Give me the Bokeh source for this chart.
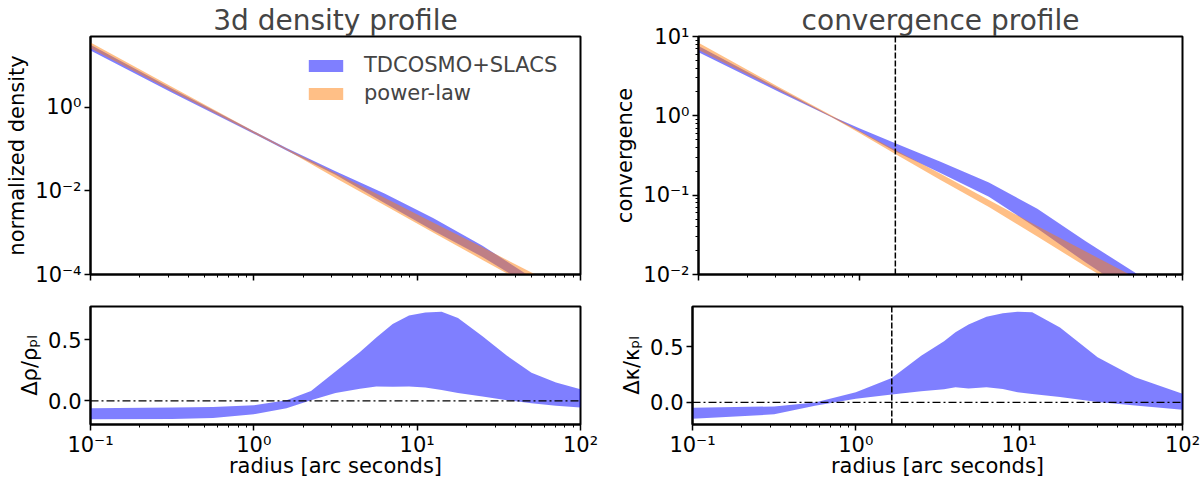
import numpy as np
from bokeh.plotting import figure
from bokeh.models import (Range1d, FixedTicker, CustomJSTickFormatter, Span,
                          Legend, LegendItem)
from bokeh.layouts import column, row
from bokeh.embed import file_html
from bokeh.resources import INLINE

FONT = "DejaVu Sans"
BLUE = "#0000ff"
ORANGE = "#ff7f0e"

# --- data (log10 values for the top panels) ---
logr_dens = [-1.0, -0.5, 0.0, 0.2, 0.5, 0.8, 1.1, 1.4, 1.7, 2.0]
dens_hi = [1.50, 0.45, -0.57, -0.97, -1.53, -2.06, -2.65, -3.31, -4.07, -4.85]
dens_lo = [1.365, 0.35, -0.63, -1.03, -1.61, -2.29, -2.95, -3.58, -4.30, -5.0]
dens_pl_hi = [1.556, 0.49, -0.57, -0.98, -1.57, -2.16, -2.76, -3.35, -3.95, -4.55]
dens_pl_lo = [1.42, 0.39, -0.62, -1.02, -1.69, -2.34, -3.00, -3.65, -4.30, -4.96]

logr_conv = [-1.0, -0.5, -0.18, 0.0, 0.22, 0.5, 0.8, 1.1, 1.4, 1.7, 2.0]
conv_hi = [0.88, 0.34, 0.00, -0.16, -0.345, -0.58, -0.84, -1.17, -1.58, -1.97, -2.40]
conv_lo = [0.80, 0.30, -0.01, -0.20, -0.45, -0.72, -1.02, -1.42, -1.85, -2.25, -2.62]
conv_pl_hi = [0.92, 0.36, 0.01, -0.19, -0.43, -0.73, -1.06, -1.39, -1.71, -2.03, -2.36]
conv_pl_lo = [0.83, 0.32, -0.01, -0.22, -0.48, -0.81, -1.15, -1.52, -1.90, -2.26, -2.62]

logr_drho = [-1.0, -0.5, -0.25, 0.0, 0.2, 0.35, 0.5, 0.65, 0.75, 0.85, 0.95,
             1.05, 1.15, 1.25, 1.4, 1.55, 1.7, 1.85, 2.0]
drho_hi = [-0.06, -0.055, -0.05, -0.037, 0.005, 0.08, 0.24, 0.40, 0.52, 0.63, 0.70,
           0.725, 0.73, 0.68, 0.53, 0.37, 0.23, 0.15, 0.095]
drho_lo = [-0.15, -0.148, -0.14, -0.11, -0.06, 0.005, 0.065, 0.10, 0.118, 0.115, 0.118,
           0.11, 0.09, 0.065, 0.035, 0.005, -0.02, -0.04, -0.055]

logr_dkap = [-1.0, -0.5, -0.25, 0.0, 0.22, 0.4, 0.54, 0.61, 0.69, 0.8, 0.9,
             0.99, 1.08, 1.25, 1.48, 1.71, 2.0]
dkap_hi = [-0.048, -0.036, 0.0, 0.092, 0.22, 0.42, 0.55, 0.63, 0.70, 0.768, 0.80,
           0.813, 0.81, 0.673, 0.405, 0.226, 0.077]
dkap_lo = [-0.146, -0.107, -0.03, 0.033, 0.071, 0.10, 0.119, 0.137, 0.125, 0.137, 0.12,
           0.092, 0.075, 0.048, 0.003, -0.027, -0.065]

r_einstein = 1.66

x_major = [0.1, 1.0, 10.0, 100.0]
x_minor = [k * 10.0 ** d for d in (-1, 0, 1) for k in range(2, 10)]

sup_fmt = """
const s = {"-": "\u207b", "0": "\u2070", "1": "\u00b9", "2": "\u00b2", "3": "\u00b3",
           "4": "\u2074", "5": "\u2075", "6": "\u2076", "7": "\u2077", "8": "\u2078", "9": "\u2079"};
const e = Math.round(Math.log10(tick));
return "10" + String(e).split("").map(c => s[c]).join("");
"""


def panel(width, height, y_type, y_range, left, right, top, bottom, ylabel):
    p = figure(width=width, height=height, x_axis_type="log", y_axis_type=y_type,
               x_range=Range1d(0.1, 100), y_range=y_range,
               output_backend="svg", toolbar_location=None,
               min_border_left=left, min_border_right=right,
               min_border_top=top, min_border_bottom=bottom)
    p.outline_line_color = "black"
    p.outline_line_width = 2
    p.outline_line_alpha = 1
    p.grid.visible = False
    p.background_fill_color = "white"
    for ax in p.axis:
        ax.axis_line_color = "black"
        ax.axis_line_width = 2
        ax.major_tick_out = 6
        ax.major_tick_in = 0
        ax.minor_tick_out = 3
        ax.minor_tick_in = 0
        ax.major_tick_line_width = 1.5
        ax.minor_tick_line_width = 1
        ax.major_label_text_font = FONT
        ax.major_label_text_font_size = "21px"
        ax.major_label_text_color = "black"
        ax.major_label_standoff = 3
        ax.axis_label_text_font = FONT
        ax.axis_label_text_font_size = "21px"
        ax.axis_label_text_font_style = "normal"
        ax.axis_label_text_color = "black"
        ax.axis_label_standoff = 3
    p.xaxis.ticker = FixedTicker(ticks=x_major, minor_ticks=x_minor)
    p.xaxis.formatter = CustomJSTickFormatter(code=sup_fmt)
    p.yaxis.axis_label = ylabel
    return p


def style_title(p, text):
    p.title.text = text
    p.title.align = "center"
    p.title.text_font = FONT
    p.title.text_font_size = "28px"
    p.title.text_font_style = "normal"
    p.title.standoff = 0
    p.title.offset = 0


def hide_x_labels(p):
    p.xaxis.major_label_text_font_size = "0px"
    p.xaxis.major_label_text_color = None
    p.xaxis.major_label_standoff = 0


def bottom_x_label(p):
    p.xaxis.axis_label = "radius [arc seconds]"
    p.xaxis.major_label_standoff = 2
    p.xaxis.axis_label_standoff = -6


# top-left: 3d density
p1 = panel(610, 290, "log", Range1d(1e-4, 10 ** 1.70), 90, 30, 36, 16, "normalized density")
style_title(p1, "3d density profile")
hide_x_labels(p1)
p1.yaxis.ticker = FixedTicker(ticks=[1e-4, 1e-2, 1.0], minor_ticks=[])
p1.yaxis.formatter = CustomJSTickFormatter(code=sup_fmt)
r_d = 10.0 ** np.array(logr_dens)
b1 = p1.varea(x=r_d, y1=10.0 ** np.array(dens_lo), y2=10.0 ** np.array(dens_hi),
              fill_color=BLUE, fill_alpha=0.5)
o1 = p1.varea(x=r_d, y1=10.0 ** np.array(dens_pl_lo), y2=10.0 ** np.array(dens_pl_hi),
              fill_color=ORANGE, fill_alpha=0.5)
legend = Legend(items=[LegendItem(label="TDCOSMO+SLACS", renderers=[b1]),
                       LegendItem(label="power-law", renderers=[o1])],
                location=(214, 169), glyph_width=43, glyph_height=15, label_height=22,
                spacing=4, padding=0, margin=0, label_standoff=17,
                border_line_color=None, background_fill_alpha=0,
                label_text_font=FONT, label_text_font_size="21px")
p1.add_layout(legend)

# top-right: convergence
p2 = panel(590, 290, "log", Range1d(1e-2, 10), 82, 18, 36, 16, "convergence")
style_title(p2, "convergence profile")
hide_x_labels(p2)
y_minor = [k * 10.0 ** d for d in (-2, -1, 0) for k in range(2, 10)]
p2.yaxis.ticker = FixedTicker(ticks=[1e-2, 1e-1, 1.0, 10.0], minor_ticks=y_minor)
p2.yaxis.formatter = CustomJSTickFormatter(code=sup_fmt)
r_c = 10.0 ** np.array(logr_conv)
p2.varea(x=r_c, y1=10.0 ** np.array(conv_lo), y2=10.0 ** np.array(conv_hi),
         fill_color=BLUE, fill_alpha=0.5)
p2.varea(x=r_c, y1=10.0 ** np.array(conv_pl_lo), y2=10.0 ** np.array(conv_pl_hi),
         fill_color=ORANGE, fill_alpha=0.5)
p2.add_layout(Span(location=r_einstein, dimension="height", line_color="black",
                   line_dash="6 2", line_width=1.5))

# bottom-left: relative density difference
p3 = panel(610, 195, "linear", Range1d(-0.194, 0.774), 90, 30, 16, 61, "\u0394\u03c1/\u03c1\u209a\u2097")
bottom_x_label(p3)
p3.yaxis.ticker = FixedTicker(ticks=[0.0, 0.5], minor_ticks=[])
p3.yaxis.formatter = CustomJSTickFormatter(code="return tick.toFixed(1);")
p3.varea(x=10.0 ** np.array(logr_drho), y1=drho_lo, y2=drho_hi,
         fill_color=BLUE, fill_alpha=0.5)
p3.add_layout(Span(location=0, dimension="width", line_color="black",
                   line_dash="8 3 2 3", line_width=1.3))

# bottom-right: relative convergence difference
p4 = panel(590, 195, "linear", Range1d(-0.198, 0.861), 82, 18, 16, 61, "\u0394\u03ba/\u03ba\u209a\u2097")
bottom_x_label(p4)
p4.yaxis.ticker = FixedTicker(ticks=[0.0, 0.5], minor_ticks=[])
p4.yaxis.formatter = CustomJSTickFormatter(code="return tick.toFixed(1);")
p4.varea(x=10.0 ** np.array(logr_dkap), y1=dkap_lo, y2=dkap_hi,
         fill_color=BLUE, fill_alpha=0.5)
p4.add_layout(Span(location=0, dimension="width", line_color="black",
                   line_dash="8 3 2 3", line_width=1.3))
p4.add_layout(Span(location=r_einstein, dimension="height", line_color="black",
                   line_dash="6 2", line_width=1.5))

layout = column(row(p1, p2), row(p3, p4))

open("out.html", "w").write(file_html(layout, INLINE))
